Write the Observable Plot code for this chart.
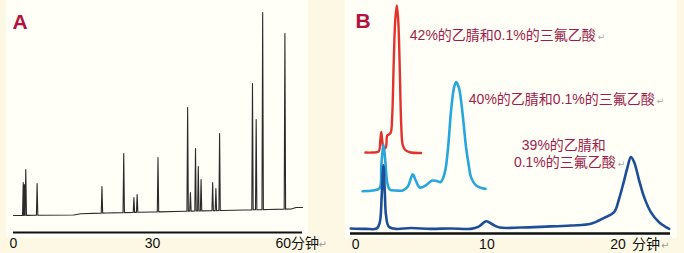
<!DOCTYPE html>
<html>
<head>
<meta charset="utf-8">
<script src="https://cdn.jsdelivr.net/npm/d3@7"></script>
<script src="https://cdn.jsdelivr.net/npm/@observablehq/plot@0.6"></script>
<style>
  html, body { margin: 0; padding: 0; background: #fcf8e4; }
  #chart { position: relative; width: 684px; height: 253px; background: #fcf8e4; overflow: hidden; }
  .panel { position: absolute; background: #fffef7; }
  #chart svg { position: absolute; top: 0; }
</style>
</head>
<body>
<div id="chart">
  <div class="panel" style="left:6px;top:0;width:302px;height:238px"></div>
  <div class="panel" style="left:345px;top:0;width:332px;height:238px"></div>
</div>
<script>
// ---------- Panel A data (minutes, absorbance above axis) ----------
const baseTimesA = [0, 13, 14.5, 20, 30, 37, 45, 50, 55, 60, 61, 62.4];
const baseValuesA = [8.5, 8.75, 9.35, 9.75, 10.25, 10.65, 11, 11.25, 11.5, 11.75, 12.5, 12.5];
const peakTimesA = [2.1, 2.35, 2.65, 5.1, 19.1, 23.8, 26.0, 26.7, 31.2, 37.6, 38.2, 39.3, 39.9, 40.5, 43.0, 43.7, 44.5, 51.6, 52.4, 53.8, 58.6];
const peakHeightsA = [25, 24, 31.5, 24.5, 23, 39.5, 17.5, 19, 37.5, 62.5, 20, 42, 33, 26.5, 25, 22, 49.5, 74.5, 56.5, 110, 99.5];
const tickValuesA = [0, 30];
const tickLabelsA = ["0", "30"];
const unitTickA = [60];
const unitLabelA = ["60分钟"];

// ---------- Panel B data ----------
const redT = [0.74, 1.3, 1.75, 1.87, 1.95, 2.02, 2.14, 2.29, 2.4, 2.52, 2.67, 2.78, 2.9, 3.01, 3.13, 3.24, 3.36, 3.47, 3.59, 3.81, 4.2, 4.98];
const redV = [35.2, 35.2, 35.7, 40.4, 44.1, 40.4, 37, 37.4, 42.6, 43, 43.9, 51.3, 75.2, 92.6, 99.1, 92.6, 70.9, 47, 38.3, 36.1, 35.2, 35];

const lightT = [0.53, 1.3, 1.81, 1.95, 2.11, 2.25, 2.4, 2.59, 3.05, 3.58, 3.97, 4.2, 4.35, 4.58, 4.88, 5.34, 5.82, 6.18, 6.48, 6.79, 7.02, 7.27, 7.48, 7.65, 7.86, 8.03, 8.24, 8.41, 8.62, 8.79, 9.18, 9.89];
const lightV = [18.4, 18.7, 19.6, 29.6, 38.7, 31.7, 22.2, 19.1, 18.7, 18.7, 20.4, 23.9, 25.7, 23, 20, 20.9, 23, 22.8, 22.4, 26.5, 36.1, 53.5, 63, 65.8, 63.5, 57.8, 47, 37.5, 29.6, 24.5, 20.9, 19.4];

const darkT = [-0.38, 0.76, 1.6, 1.83, 1.98, 2.11, 2.21, 2.31, 2.52, 3.05, 4.2, 5.72, 7.25, 8.77, 9.38, 9.94, 10.45, 10.98, 12.6, 14.5, 16.4, 17.93, 18.94, 19.7, 20.08, 20.46, 20.72, 20.98, 21.23, 21.61, 21.99, 22.5, 23.13, 23.9];
const darkV = [2.2, 2.0, 2.2, 4.8, 16.5, 29.6, 18.7, 7.8, 3.0, 2.0, 2.4, 2.0, 2.2, 2.0, 3.0, 5.3, 3.9, 2.6, 2.6, 3.0, 3.5, 4.2, 6.8, 9.3, 15.1, 23, 28.8, 33.2, 31, 23, 15.8, 9.3, 4.9, 2.0];

const tickValuesB = [0, 10, 20];
const tickLabelsB = ["0", "10", "20"];
const unitLabelB = ["分钟"];

const annoLabels = ["42%的乙腈和0.1%的三氟乙酸", "40%的乙腈和0.1%的三氟乙酸", "39%的乙腈和", "0.1%的三氟乙酸"];
const annoEndT = [18.3, 22.8, 19.07, 19.83];
const annoV = [84.3, 56.1, 36.5, 28.7];
const annoReturn = [true, true, false, true];

// ---------- styling ----------
const FONT = "'Liberation Sans', Arial, 'Noto Sans CJK SC', sans-serif";
const LABEL = "#9c1d4b";
const LETTER = "#b3123e";

// Build trace A from baseline + spikes (apex values are read directly)
const baseAt = d3.scaleLinear(baseTimesA, baseValuesA);
const w = 0.15;
const traceA = [];
baseTimesA.forEach((t, i) => traceA.push({t, v: baseValuesA[i]}));
peakTimesA.forEach((t, i) => {
  traceA.push({t: t - w, v: baseAt(t - w)});
  traceA.push({t, v: peakHeightsA[i]});
  traceA.push({t: t + w, v: baseAt(t + w)});
});
traceA.sort((a, b) => a.t - b.t);

const plotA = Plot.plot({
  width: 342, height: 253,
  marginLeft: 13, marginRight: 40, marginTop: 0, marginBottom: 21,
  x: {domain: [0, 62.4], axis: null},
  y: {domain: [0, 116], axis: null},
  style: {background: "transparent", fontFamily: FONT, overflow: "visible"},
  marks: [
    Plot.ruleY([0], {stroke: "#111", strokeWidth: 2}),
    Plot.line(traceA, {x: "t", y: "v", stroke: "#2a2a2a", strokeWidth: 1.1}),
    Plot.text(tickValuesA, {x: d => d, y: 0, text: (d, i) => tickLabelsA[i], dy: 15, lineAnchor: "bottom", fontSize: 14, fill: "#111"}),
    Plot.text(unitTickA, {x: d => d, y: 0, text: (d, i) => unitLabelA[i], dx: -16, dy: 15, lineAnchor: "bottom", textAnchor: "start", fontSize: 14, fill: "#111"}),
    Plot.text(unitTickA, {x: d => d, y: 0, text: () => "↵", dx: 27, dy: 15, lineAnchor: "bottom", textAnchor: "start", fontSize: 10, fill: "#9a9a9a", fontFamily: "DejaVu Sans"}),
    Plot.text(["A"], {frameAnchor: "top-left", text: d => d, dx: -1, dy: 28, lineAnchor: "bottom", textAnchor: "start", fontSize: 21, fontWeight: "bold", fill: LETTER})
  ]
});

const mk = (T, V) => T.map((t, i) => ({t, v: V[i]}));

const plotB = Plot.plot({
  width: 342, height: 253,
  marginLeft: 8, marginRight: 14, marginTop: 3, marginBottom: 20,
  x: {domain: [-0.4, 24], axis: null},
  y: {domain: [0, 100], axis: null},
  style: {background: "transparent", fontFamily: FONT, overflow: "visible"},
  marks: [
    Plot.line(mk(redT, redV), {x: "t", y: "v", stroke: "#e2322c", strokeWidth: 2.4, curve: "catmull-rom"}),
    Plot.line(mk(lightT, lightV), {x: "t", y: "v", stroke: "#27a6de", strokeWidth: 2.6, curve: "catmull-rom"}),
    Plot.line(mk(darkT, darkV), {x: "t", y: "v", stroke: "#1d4f98", strokeWidth: 2.6, curve: "catmull-rom"}),
    Plot.ruleY([0], {stroke: "#111", strokeWidth: 2.5}),
    Plot.text(tickValuesB, {x: d => d, y: 0, text: (d, i) => tickLabelsB[i], dy: 15, lineAnchor: "bottom", fontSize: 14, fill: "#111"}),
    Plot.text(unitLabelB, {x: 20, y: 0, text: d => d, dx: 14, dy: 15, lineAnchor: "bottom", textAnchor: "start", fontSize: 14, fill: "#111"}),
    Plot.text(["↵"], {x: 20, y: 0, text: d => d, dx: 43, dy: 15, lineAnchor: "bottom", textAnchor: "start", fontSize: 10, fill: "#9a9a9a", fontFamily: "DejaVu Sans"}),
    Plot.text(annoLabels, {x: (d, i) => annoEndT[i], y: (d, i) => annoV[i], text: d => d, lineAnchor: "bottom", textAnchor: "end", fontSize: 14, fill: LABEL}),
    Plot.text(annoLabels.filter((d, i) => annoReturn[i]), {
      x: d => annoEndT[annoLabels.indexOf(d)], y: d => annoV[annoLabels.indexOf(d)],
      text: () => "↵", dx: 2, lineAnchor: "bottom", textAnchor: "start", fontSize: 9, fill: "#a8a8a8", fontFamily: "DejaVu Sans"}),
    Plot.text(["B"], {frameAnchor: "top-left", text: d => d, dx: 5, dy: 24, lineAnchor: "bottom", textAnchor: "start", fontSize: 21, fontWeight: "bold", fill: LETTER})
  ]
});

const chart = document.getElementById("chart");
plotA.style.left = "0px";
plotB.style.left = "342px";
chart.appendChild(plotA);
chart.appendChild(plotB);
</script>
</body>
</html>
